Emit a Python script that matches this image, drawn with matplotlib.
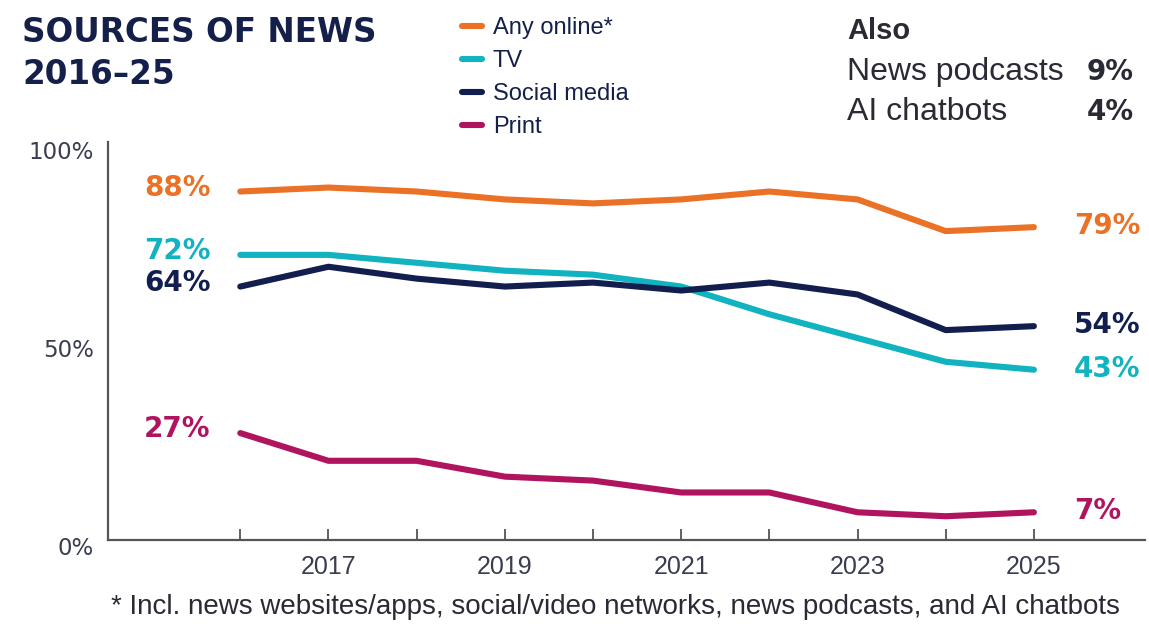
import matplotlib.pyplot as plt
from matplotlib.transforms import ScaledTranslation

# values
years = [2016, 2017, 2018, 2019, 2020, 2021, 2022, 2023, 2024, 2025]
online = [88, 89, 88, 86, 85, 86, 88, 86, 78, 79]
tv = [72, 72, 70, 68, 67, 64, 57, 51, 45, 43]
social = [64, 69, 66, 64, 65, 63, 65, 62, 53, 54]
printed = [27, 20, 20, 16, 15, 12, 12, 7, 6, 7]

labels = ["Any online*", "TV", "Social media", "Print"]
colors = ["#EA7125", "#10B3BF", "#121E4D", "#B0145E"]
labelled_years = [2017, 2019, 2021, 2023, 2025]
also_names = ["News podcasts", "AI chatbots"]
also_values = ["9%", "4%"]
footnote = "* Incl. news websites/apps, social/video networks, news podcasts, and AI chatbots"

navy = "#14204A"
body = "#2a2a35"
narrow = "Liberation Sans"
W, H = 1149, 625

fig = plt.figure(figsize=(W / 100, H / 100), dpi=100)
ax = fig.add_axes([108 / W, 85 / H, 1037 / W, 398 / H])

series = [online, tv, social, printed]
handles = []
for vals, lab, col in zip(series, labels, colors):
    ln, = ax.plot(years, vals, color=col, lw=4.4, solid_capstyle="round",
                  solid_joinstyle="round", label=lab)
    handles.append(ln)

    # start / end value labels
    ax.annotate(f"{vals[0]}%", (years[0], vals[0]), xytext=(-30, 4),
                textcoords="offset pixels", ha="right", va="center",
                color=col, fontsize=20, fontweight="bold")
    ax.annotate(f"{vals[-1]}%", (years[-1], vals[-1]), xytext=(40, 1),
                textcoords="offset pixels", ha="left", va="center",
                color=col, fontsize=20, fontweight="bold")

ax.set_xlim(2014.5, 2026.26)
ax.set_ylim(0, 100.5)
ax.set_yticks([0, 50, 100])
ax.set_yticklabels(["0%", "50%", "100%"], fontsize=16.5, color="#3a3d4f")
ax.tick_params(axis="y", length=0, pad=10)
shift = ScaledTranslation(0, -0.06, fig.dpi_scale_trans)
for t in ax.get_yticklabels():
    t.set_transform(t.get_transform() + shift)
ax.set_xticks(years)
ax.set_xticklabels([str(y) if y in labelled_years else "" for y in years],
                   fontsize=18, color="#3a3d4f", family=narrow)
ax.tick_params(axis="x", direction="in", length=8, width=1.3, color="#555555", pad=11)
for s in ["top", "right"]:
    ax.spines[s].set_visible(False)
for s in ["left", "bottom"]:
    ax.spines[s].set_color("#555555")
    ax.spines[s].set_linewidth(1.6)

# title
fig.text(22 / W, 1 - 32 / H, "SOURCES OF NEWS", fontsize=23.5, fontweight="heavy",
         color=navy, va="center", ha="left")
fig.text(22 / W, 1 - 75 / H, "2016–25", fontsize=23.5, fontweight="heavy",
         color=navy, va="center", ha="left")

# legend
leg = ax.legend(handles=handles, loc="upper left", bbox_to_anchor=(462 / W, 1 - 17 / H),
                bbox_transform=fig.transFigure, frameon=False,
                prop={"family": narrow, "size": 17},
                handlelength=0.85, handletextpad=0.45, labelspacing=0.47,
                borderaxespad=0, borderpad=0)
for t in leg.get_texts():
    t.set_color(navy)

# "Also" block
fig.text(847 / W, 1 - 31 / H, "Also", fontsize=21, fontweight="bold",
         color=body, va="center", ha="left", family=narrow)
for i, (name, val) in enumerate(zip(also_names, also_values)):
    yy = 1 - (72 + 40 * i) / H
    fig.text(847 / W, yy, name, fontsize=23, color=body, va="center", ha="left",
             family=narrow)
    fig.text(1134 / W, yy, val, fontsize=20, fontweight="bold", color=body,
             va="center", ha="right")

fig.text(615 / W, 1 - 607 / H, footnote, fontsize=20, color=body,
         va="center", ha="center", family=narrow)

fig.savefig("out.png", dpi=100)
